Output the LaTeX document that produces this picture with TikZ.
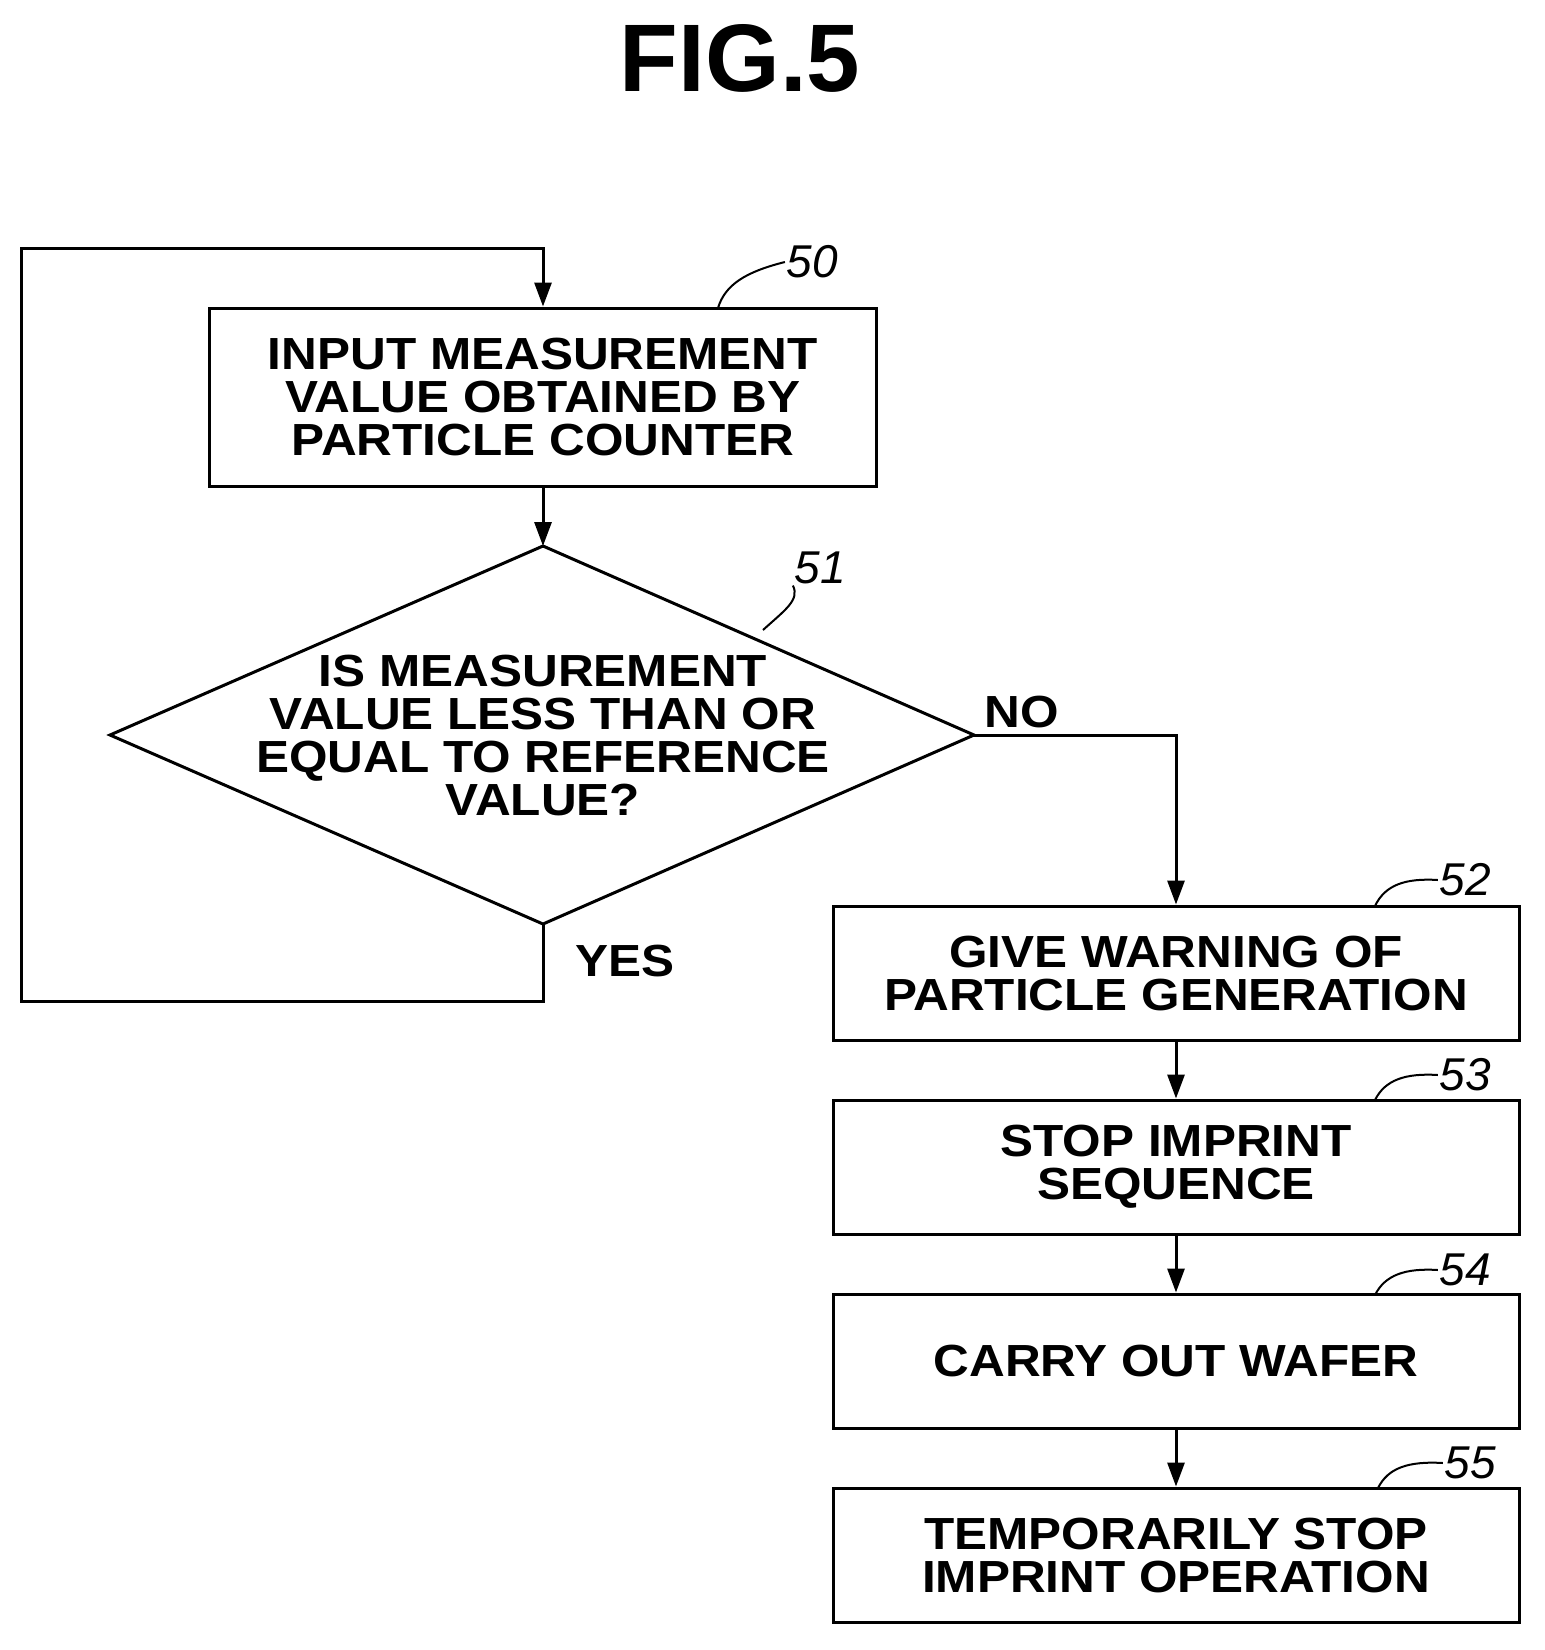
\documentclass[tikz,border=0pt]{standalone}
\usepackage{fontspec}
\setmainfont{Liberation Sans}
\newfontfamily\widefont[FakeStretch=1.1]{Liberation Sans}
\usetikzlibrary{shapes.geometric,arrows.meta}
\begin{document}
\begin{tikzpicture}[x=1pt,y=-1pt,line width=3pt,
  txt/.style={font=\widefont\fontsize{45}{43}\selectfont\bfseries,align=center,inner sep=0},
  box/.style={draw,minimum width=686pt,minimum height=134pt},
  lab/.style={font=\fontsize{46}{46}\selectfont\itshape,inner sep=0},
  arr/.style={-{Triangle[length=24pt,width=17pt]}}]
\useasboundingbox (0,0) rectangle (1545,1650);
\node[inner sep=0,font=\fontsize{96}{96}\selectfont\bfseries] (t) at (740,58) {FIG.5};
\node[draw,minimum width=667pt,minimum height=178pt] (b50) at (543,397) {};
\node[txt] at (b50) {INPUT MEASUREMENT\\VALUE OBTAINED BY\\PARTICLE COUNTER};
\coordinate (dt) at (543,546); \coordinate (db) at (543,924);
\coordinate (dl) at (110,735); \coordinate (dr) at (974,735);
\draw (dt) -- (dr) -- (db) -- (dl) -- cycle;
\node[txt] (d51) at (543,735) {IS MEASUREMENT\\VALUE LESS THAN OR\\EQUAL TO REFERENCE\\VALUE?};
\node[box] (b52) at (1176,973) {}; \node[txt] at (b52) {GIVE WARNING OF\\PARTICLE GENERATION};
\node[box] (b53) at (1176,1167) {}; \node[txt] at (b53) {STOP IMPRINT\\SEQUENCE};
\node[box] (b54) at (1176,1361) {}; \node[txt] at (b54) {CARRY OUT WAFER};
\node[box] (b55) at (1176,1555) {}; \node[txt] at (b55) {TEMPORARILY STOP\\IMPRINT OPERATION};
\coordinate (l1) at (21,1001); \coordinate (l2) at (21,248);
\draw[arr] (b50.south) -- (dt);
\draw[arr] (db) -- (543,1001) -- (l1) -- (l2) -- (543,248) -- (b50.north);
\draw[arr] (dr) -- (1176,735) -- (b52.north);
\draw[arr] (b52.south) -- (b53.north);
\draw[arr] (b53.south) -- (b54.north);
\draw[arr] (b54.south) -- (b55.north);
\node[txt] (no) at (1022,712) {NO};
\node[txt] (yes) at (625,961) {YES};
\node[lab] (n50) at (812,262) {50};
\draw[line width=2pt] (718,308) .. controls (725,285) and (745,272) .. (n50.west);
\node[lab] (n51) at (820,568) {51};
\draw[line width=2pt] (763,630) .. controls (785,610) and (800,600) .. (n51.south west);
\node[lab] (n52) at (1465,880) {52};
\draw[line width=2pt] (1375,906) .. controls (1385,885) and (1405,878) .. (n52.west);
\node[lab] (n53) at (1465,1075) {53};
\draw[line width=2pt] (1375,1100) .. controls (1385,1080) and (1405,1073) .. (n53.west);
\node[lab] (n54) at (1465,1270) {54};
\draw[line width=2pt] (1375,1295) .. controls (1385,1275) and (1405,1268) .. (n54.west);
\node[lab] (n55) at (1470,1463) {55};
\draw[line width=2pt] (1378,1488) .. controls (1388,1468) and (1408,1461) .. (n55.west);
\end{tikzpicture}
\end{document}
